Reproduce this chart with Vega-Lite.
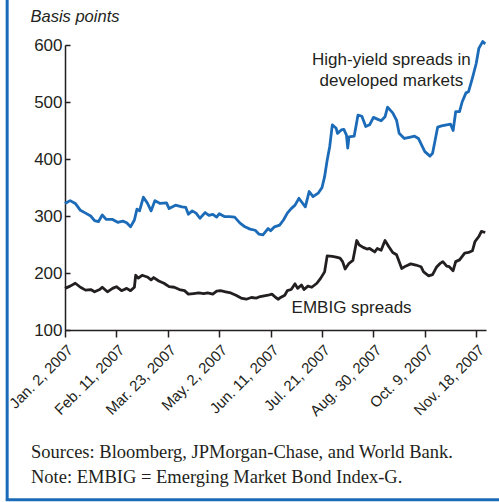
{
  "$schema": "https://vega.github.io/schema/vega-lite/v6.json",
  "width": 421,
  "height": 285,
  "autosize": "none",
  "padding": {"left": 65, "top": 45, "right": 13, "bottom": 172},
  "background": "white",
  "config": {
    "view": {"stroke": null},
    "font": "Liberation Sans",
    "axis": {"labelColor": "#231f20", "titleColor": "#231f20", "domainColor": "#231f20", "tickColor": "#231f20", "domainWidth": 1.5, "tickWidth": 1.5, "grid": false}
  },
  "title": {
    "text": "Sources: Bloomberg, JPMorgan-Chase, and World Bank.",
    "subtitle": "Note: EMBIG = Emerging Market Bond Index-G.",
    "orient": "bottom",
    "anchor": "start",
    "frame": "group",
    "dx": -34,
    "offset": -60,
    "font": "Liberation Serif",
    "fontSize": 18.5,
    "fontWeight": "normal",
    "color": "#231f20",
    "subtitleFont": "Liberation Serif",
    "subtitleFontSize": 18.5,
    "subtitleColor": "#231f20",
    "subtitlePadding": 7
  },
  "data": {
    "values": [
      {"s": "HY", "d": "2007-01-02", "v": 322}, {"s": "HY", "d": "2007-01-06", "v": 327}, {"s": "HY", "d": "2007-01-10", "v": 322}, {"s": "HY", "d": "2007-01-14", "v": 310}, {"s": "HY", "d": "2007-01-18", "v": 305}, {"s": "HY", "d": "2007-01-22", "v": 300}, {"s": "HY", "d": "2007-01-25", "v": 292}, {"s": "HY", "d": "2007-01-28", "v": 290}, {"s": "HY", "d": "2007-01-31", "v": 302}, {"s": "HY", "d": "2007-02-03", "v": 294}, {"s": "HY", "d": "2007-02-08", "v": 294}, {"s": "HY", "d": "2007-02-12", "v": 289}, {"s": "HY", "d": "2007-02-16", "v": 291}, {"s": "HY", "d": "2007-02-19", "v": 288}, {"s": "HY", "d": "2007-02-22", "v": 281}, {"s": "HY", "d": "2007-02-25", "v": 293}, {"s": "HY", "d": "2007-02-27", "v": 312}, {"s": "HY", "d": "2007-03-01", "v": 309}, {"s": "HY", "d": "2007-03-04", "v": 333}, {"s": "HY", "d": "2007-03-07", "v": 323}, {"s": "HY", "d": "2007-03-10", "v": 309}, {"s": "HY", "d": "2007-03-13", "v": 327}, {"s": "HY", "d": "2007-03-17", "v": 322}, {"s": "HY", "d": "2007-03-22", "v": 323}, {"s": "HY", "d": "2007-03-24", "v": 313}, {"s": "HY", "d": "2007-03-29", "v": 319}, {"s": "HY", "d": "2007-04-03", "v": 316}, {"s": "HY", "d": "2007-04-06", "v": 315}, {"s": "HY", "d": "2007-04-08", "v": 303}, {"s": "HY", "d": "2007-04-11", "v": 309}, {"s": "HY", "d": "2007-04-14", "v": 305}, {"s": "HY", "d": "2007-04-17", "v": 296}, {"s": "HY", "d": "2007-04-21", "v": 306}, {"s": "HY", "d": "2007-04-24", "v": 301}, {"s": "HY", "d": "2007-04-27", "v": 303}, {"s": "HY", "d": "2007-04-30", "v": 298}, {"s": "HY", "d": "2007-05-02", "v": 304}, {"s": "HY", "d": "2007-05-06", "v": 299}, {"s": "HY", "d": "2007-05-10", "v": 299}, {"s": "HY", "d": "2007-05-14", "v": 298}, {"s": "HY", "d": "2007-05-18", "v": 288}, {"s": "HY", "d": "2007-05-22", "v": 281}, {"s": "HY", "d": "2007-05-26", "v": 277}, {"s": "HY", "d": "2007-05-30", "v": 275}, {"s": "HY", "d": "2007-06-02", "v": 268}, {"s": "HY", "d": "2007-06-05", "v": 267}, {"s": "HY", "d": "2007-06-09", "v": 278}, {"s": "HY", "d": "2007-06-11", "v": 274}, {"s": "HY", "d": "2007-06-14", "v": 281}, {"s": "HY", "d": "2007-06-18", "v": 284}, {"s": "HY", "d": "2007-06-21", "v": 293}, {"s": "HY", "d": "2007-06-24", "v": 305}, {"s": "HY", "d": "2007-06-27", "v": 313}, {"s": "HY", "d": "2007-06-30", "v": 319}, {"s": "HY", "d": "2007-07-03", "v": 331}, {"s": "HY", "d": "2007-07-05", "v": 325}, {"s": "HY", "d": "2007-07-08", "v": 316}, {"s": "HY", "d": "2007-07-11", "v": 343}, {"s": "HY", "d": "2007-07-14", "v": 334}, {"s": "HY", "d": "2007-07-18", "v": 340}, {"s": "HY", "d": "2007-07-21", "v": 350}, {"s": "HY", "d": "2007-07-23", "v": 369}, {"s": "HY", "d": "2007-07-25", "v": 398}, {"s": "HY", "d": "2007-07-27", "v": 422}, {"s": "HY", "d": "2007-07-29", "v": 460}, {"s": "HY", "d": "2007-08-01", "v": 454}, {"s": "HY", "d": "2007-08-02", "v": 445}, {"s": "HY", "d": "2007-08-05", "v": 451}, {"s": "HY", "d": "2007-08-07", "v": 452}, {"s": "HY", "d": "2007-08-09", "v": 442}, {"s": "HY", "d": "2007-08-10", "v": 419}, {"s": "HY", "d": "2007-08-11", "v": 439}, {"s": "HY", "d": "2007-08-15", "v": 440}, {"s": "HY", "d": "2007-08-18", "v": 477}, {"s": "HY", "d": "2007-08-21", "v": 475}, {"s": "HY", "d": "2007-08-24", "v": 457}, {"s": "HY", "d": "2007-08-27", "v": 460}, {"s": "HY", "d": "2007-08-30", "v": 473}, {"s": "HY", "d": "2007-09-02", "v": 470}, {"s": "HY", "d": "2007-09-05", "v": 467}, {"s": "HY", "d": "2007-09-08", "v": 474}, {"s": "HY", "d": "2007-09-10", "v": 491}, {"s": "HY", "d": "2007-09-14", "v": 481}, {"s": "HY", "d": "2007-09-17", "v": 468}, {"s": "HY", "d": "2007-09-19", "v": 445}, {"s": "HY", "d": "2007-09-23", "v": 436}, {"s": "HY", "d": "2007-09-27", "v": 438}, {"s": "HY", "d": "2007-10-01", "v": 440}, {"s": "HY", "d": "2007-10-04", "v": 436}, {"s": "HY", "d": "2007-10-07", "v": 422}, {"s": "HY", "d": "2007-10-09", "v": 413}, {"s": "HY", "d": "2007-10-13", "v": 405}, {"s": "HY", "d": "2007-10-15", "v": 410}, {"s": "HY", "d": "2007-10-17", "v": 433}, {"s": "HY", "d": "2007-10-19", "v": 456}, {"s": "HY", "d": "2007-10-22", "v": 458}, {"s": "HY", "d": "2007-10-26", "v": 460}, {"s": "HY", "d": "2007-10-29", "v": 461}, {"s": "HY", "d": "2007-10-31", "v": 450}, {"s": "HY", "d": "2007-11-02", "v": 483}, {"s": "HY", "d": "2007-11-05", "v": 483}, {"s": "HY", "d": "2007-11-07", "v": 500}, {"s": "HY", "d": "2007-11-10", "v": 516}, {"s": "HY", "d": "2007-11-12", "v": 518}, {"s": "HY", "d": "2007-11-15", "v": 542}, {"s": "HY", "d": "2007-11-18", "v": 568}, {"s": "HY", "d": "2007-11-20", "v": 594}, {"s": "HY", "d": "2007-11-23", "v": 606}, {"s": "HY", "d": "2007-11-25", "v": 602},
      {"s": "EMBIG", "d": "2007-01-02", "v": 173}, {"s": "EMBIG", "d": "2007-01-06", "v": 177}, {"s": "EMBIG", "d": "2007-01-10", "v": 182}, {"s": "EMBIG", "d": "2007-01-14", "v": 175}, {"s": "EMBIG", "d": "2007-01-18", "v": 170}, {"s": "EMBIG", "d": "2007-01-22", "v": 171}, {"s": "EMBIG", "d": "2007-01-25", "v": 167}, {"s": "EMBIG", "d": "2007-01-29", "v": 171}, {"s": "EMBIG", "d": "2007-01-31", "v": 175}, {"s": "EMBIG", "d": "2007-02-04", "v": 167}, {"s": "EMBIG", "d": "2007-02-08", "v": 173}, {"s": "EMBIG", "d": "2007-02-11", "v": 176}, {"s": "EMBIG", "d": "2007-02-15", "v": 169}, {"s": "EMBIG", "d": "2007-02-19", "v": 173}, {"s": "EMBIG", "d": "2007-02-22", "v": 169}, {"s": "EMBIG", "d": "2007-02-25", "v": 175}, {"s": "EMBIG", "d": "2007-02-26", "v": 196}, {"s": "EMBIG", "d": "2007-02-28", "v": 191}, {"s": "EMBIG", "d": "2007-03-03", "v": 196}, {"s": "EMBIG", "d": "2007-03-07", "v": 193}, {"s": "EMBIG", "d": "2007-03-10", "v": 188}, {"s": "EMBIG", "d": "2007-03-12", "v": 192}, {"s": "EMBIG", "d": "2007-03-16", "v": 186}, {"s": "EMBIG", "d": "2007-03-20", "v": 182}, {"s": "EMBIG", "d": "2007-03-24", "v": 176}, {"s": "EMBIG", "d": "2007-03-28", "v": 175}, {"s": "EMBIG", "d": "2007-04-01", "v": 171}, {"s": "EMBIG", "d": "2007-04-05", "v": 169}, {"s": "EMBIG", "d": "2007-04-08", "v": 163}, {"s": "EMBIG", "d": "2007-04-12", "v": 164}, {"s": "EMBIG", "d": "2007-04-16", "v": 165}, {"s": "EMBIG", "d": "2007-04-20", "v": 164}, {"s": "EMBIG", "d": "2007-04-23", "v": 165}, {"s": "EMBIG", "d": "2007-04-27", "v": 163}, {"s": "EMBIG", "d": "2007-04-30", "v": 168}, {"s": "EMBIG", "d": "2007-05-03", "v": 169}, {"s": "EMBIG", "d": "2007-05-07", "v": 167}, {"s": "EMBIG", "d": "2007-05-11", "v": 165}, {"s": "EMBIG", "d": "2007-05-15", "v": 161}, {"s": "EMBIG", "d": "2007-05-19", "v": 156}, {"s": "EMBIG", "d": "2007-05-23", "v": 154}, {"s": "EMBIG", "d": "2007-05-27", "v": 157}, {"s": "EMBIG", "d": "2007-05-31", "v": 156}, {"s": "EMBIG", "d": "2007-06-02", "v": 158}, {"s": "EMBIG", "d": "2007-06-06", "v": 160}, {"s": "EMBIG", "d": "2007-06-09", "v": 161}, {"s": "EMBIG", "d": "2007-06-12", "v": 163}, {"s": "EMBIG", "d": "2007-06-15", "v": 157}, {"s": "EMBIG", "d": "2007-06-17", "v": 154}, {"s": "EMBIG", "d": "2007-06-18", "v": 156}, {"s": "EMBIG", "d": "2007-06-22", "v": 161}, {"s": "EMBIG", "d": "2007-06-24", "v": 169}, {"s": "EMBIG", "d": "2007-06-27", "v": 171}, {"s": "EMBIG", "d": "2007-06-30", "v": 181}, {"s": "EMBIG", "d": "2007-07-02", "v": 173}, {"s": "EMBIG", "d": "2007-07-05", "v": 179}, {"s": "EMBIG", "d": "2007-07-07", "v": 171}, {"s": "EMBIG", "d": "2007-07-10", "v": 177}, {"s": "EMBIG", "d": "2007-07-13", "v": 175}, {"s": "EMBIG", "d": "2007-07-17", "v": 182}, {"s": "EMBIG", "d": "2007-07-20", "v": 191}, {"s": "EMBIG", "d": "2007-07-23", "v": 202}, {"s": "EMBIG", "d": "2007-07-25", "v": 230}, {"s": "EMBIG", "d": "2007-07-29", "v": 229}, {"s": "EMBIG", "d": "2007-08-01", "v": 228}, {"s": "EMBIG", "d": "2007-08-04", "v": 226}, {"s": "EMBIG", "d": "2007-08-06", "v": 220}, {"s": "EMBIG", "d": "2007-08-08", "v": 207}, {"s": "EMBIG", "d": "2007-08-11", "v": 217}, {"s": "EMBIG", "d": "2007-08-14", "v": 222}, {"s": "EMBIG", "d": "2007-08-17", "v": 257}, {"s": "EMBIG", "d": "2007-08-19", "v": 249}, {"s": "EMBIG", "d": "2007-08-22", "v": 245}, {"s": "EMBIG", "d": "2007-08-25", "v": 242}, {"s": "EMBIG", "d": "2007-08-27", "v": 243}, {"s": "EMBIG", "d": "2007-08-31", "v": 237}, {"s": "EMBIG", "d": "2007-09-02", "v": 243}, {"s": "EMBIG", "d": "2007-09-05", "v": 240}, {"s": "EMBIG", "d": "2007-09-08", "v": 257}, {"s": "EMBIG", "d": "2007-09-11", "v": 246}, {"s": "EMBIG", "d": "2007-09-14", "v": 236}, {"s": "EMBIG", "d": "2007-09-17", "v": 232}, {"s": "EMBIG", "d": "2007-09-21", "v": 208}, {"s": "EMBIG", "d": "2007-09-24", "v": 212}, {"s": "EMBIG", "d": "2007-09-28", "v": 216}, {"s": "EMBIG", "d": "2007-10-02", "v": 214}, {"s": "EMBIG", "d": "2007-10-06", "v": 211}, {"s": "EMBIG", "d": "2007-10-08", "v": 202}, {"s": "EMBIG", "d": "2007-10-12", "v": 195}, {"s": "EMBIG", "d": "2007-10-15", "v": 197}, {"s": "EMBIG", "d": "2007-10-18", "v": 210}, {"s": "EMBIG", "d": "2007-10-21", "v": 217}, {"s": "EMBIG", "d": "2007-10-23", "v": 220}, {"s": "EMBIG", "d": "2007-10-26", "v": 212}, {"s": "EMBIG", "d": "2007-10-28", "v": 211}, {"s": "EMBIG", "d": "2007-10-31", "v": 204}, {"s": "EMBIG", "d": "2007-11-02", "v": 220}, {"s": "EMBIG", "d": "2007-11-05", "v": 223}, {"s": "EMBIG", "d": "2007-11-09", "v": 235}, {"s": "EMBIG", "d": "2007-11-12", "v": 236}, {"s": "EMBIG", "d": "2007-11-15", "v": 239}, {"s": "EMBIG", "d": "2007-11-17", "v": 255}, {"s": "EMBIG", "d": "2007-11-20", "v": 264}, {"s": "EMBIG", "d": "2007-11-22", "v": 273}, {"s": "EMBIG", "d": "2007-11-25", "v": 271}
    ]
  },
  "layer": [
    {
      "mark": {"type": "line", "strokeWidth": 2.8, "strokeJoin": "round"},
      "encoding": {
        "x": {
          "field": "d", "type": "temporal",
          "scale": {"type": "utc", "nice": false, "domain": [{"year": 2007, "month": 1, "date": 2, "utc": true}, {"year": 2007, "month": 11, "date": 25, "hours": 14, "utc": true}]},
          "axis": {
            "title": null,
            "values": [
              {"year": 2007, "month": 1, "date": 2, "utc": true}, {"year": 2007, "month": 1, "date": 22, "utc": true},
              {"year": 2007, "month": 2, "date": 11, "utc": true}, {"year": 2007, "month": 3, "date": 3, "utc": true},
              {"year": 2007, "month": 3, "date": 23, "utc": true}, {"year": 2007, "month": 4, "date": 12, "utc": true},
              {"year": 2007, "month": 5, "date": 2, "utc": true}, {"year": 2007, "month": 5, "date": 22, "utc": true},
              {"year": 2007, "month": 6, "date": 11, "utc": true}, {"year": 2007, "month": 7, "date": 1, "utc": true},
              {"year": 2007, "month": 7, "date": 21, "utc": true}, {"year": 2007, "month": 8, "date": 10, "utc": true},
              {"year": 2007, "month": 8, "date": 30, "utc": true}, {"year": 2007, "month": 9, "date": 19, "utc": true},
              {"year": 2007, "month": 10, "date": 9, "utc": true}, {"year": 2007, "month": 10, "date": 29, "utc": true},
              {"year": 2007, "month": 11, "date": 18, "utc": true}
            ],
            "format": "%b. %-d, %Y",
            "labelExpr": "round(datum.index * 16) % 2 === 0 ? datum.label : ''",
            "labelAngle": -45,
            "labelFontSize": 15,
            "labelPadding": 5,
            "tickSize": 7,
            "labelOverlap": false,
            "labelBound": false,
            "labelFlush": false
          }
        },
        "y": {
          "field": "v", "type": "quantitative",
          "scale": {"domain": [100, 600], "nice": false, "zero": false},
          "axis": {
            "values": [100, 150, 200, 250, 300, 350, 400, 450, 500, 550, 600],
            "tickSize": -5,
            "labelFontSize": 17,
            "labelPadding": 8,
            "title": "Basis points",
            "titleAngle": 0,
            "titleFontStyle": "italic",
            "titleFontWeight": "normal",
            "titleFontSize": 16.5,
            "titleAlign": "left",
            "titleBaseline": "alphabetic",
            "titleX": -35,
            "titleY": -24
          }
        },
        "color": {
          "field": "s", "type": "nominal",
          "scale": {"domain": ["HY", "EMBIG"], "range": ["#1b6bb8", "#231f20"]},
          "legend": null
        }
      }
    },
    {
      "data": {"values": [{}]},
      "mark": {"type": "text", "fontSize": 17, "align": "center", "baseline": "middle", "lineHeight": 21, "fill": "#231f20", "fontWeight": "normal"},
      "encoding": {
        "x": {"datum": {"year": 2007, "month": 9, "date": 13, "utc": true}, "type": "temporal"},
        "y": {"datum": 573, "type": "quantitative"},
        "text": {"value": ["High-yield spreads in", "developed markets"]}
      }
    },
    {
      "data": {"values": [{}]},
      "mark": {"type": "text", "fontSize": 17, "align": "center", "baseline": "middle", "fill": "#231f20", "fontWeight": "normal"},
      "encoding": {
        "x": {"datum": {"year": 2007, "month": 8, "date": 13, "utc": true}, "type": "temporal"},
        "y": {"datum": 138, "type": "quantitative"},
        "text": {"value": "EMBIG spreads"}
      }
    },
    {
      "data": {"values": [{}]},
      "mark": {"type": "rule", "strokeWidth": 3, "color": "#1b6bb8"},
      "encoding": {
        "x": {"datum": {"year": 2006, "month": 11, "date": 18, "utc": true}, "type": "temporal"},
        "y": {"datum": 680, "type": "quantitative"},
        "y2": {"datum": -200}
      }
    },
    {
      "data": {"values": [{}]},
      "mark": {"type": "rule", "strokeWidth": 3, "color": "#1b6bb8"},
      "encoding": {
        "x": {"datum": {"year": 2006, "month": 11, "date": 17, "utc": true}, "type": "temporal"},
        "x2": {"datum": {"year": 2007, "month": 12, "date": 10, "utc": true}},
        "y": {"datum": -198, "type": "quantitative"}
      }
    }
  ]
}
